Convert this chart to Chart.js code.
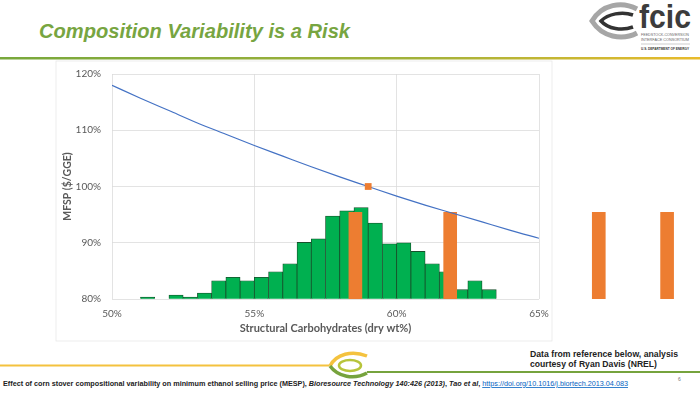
<!DOCTYPE html>
<html>
<head>
<meta charset="utf-8">
<title>Composition Variability is a Risk</title>
<script src="https://cdn.jsdelivr.net/npm/chart.js@4.4.0/dist/chart.umd.min.js"></script>
<style>
    html, body { margin: 0; padding: 0; background: #fff; }
    #slide { position: relative; width: 700px; height: 394px; overflow: hidden; background: #fff; }
    #slide svg, #slide canvas { position: absolute; left: 0; top: 0; }
</style>
</head>
<body>
<div id="slide">
    <svg id="decor" width="700" height="394" xmlns="http://www.w3.org/2000/svg" font-family="'Liberation Sans', Arial, sans-serif">
        <defs>
            <linearGradient id="titleRule" x1="0" x2="1" y1="0" y2="0">
                <stop offset="0" stop-color="#78a83c"/>
                <stop offset="0.6" stop-color="#a3b23a"/>
                <stop offset="1" stop-color="#e9bb2c"/>
            </linearGradient>
        </defs>

        <!-- slide title -->
        <text x="39" y="37.5" font-size="20" font-weight="bold" font-style="italic" fill="#77a541"
              textLength="311" lengthAdjust="spacingAndGlyphs">Composition Variability is a Risk</text>
        <rect x="0" y="57" width="700" height="2.5" fill="url(#titleRule)"/>

        <!-- fcic logo -->
        <path d="M637 9 C622 1 602 4 592 21 C602 37 622 41 637 33" fill="none" stroke="#a6a6a6" stroke-width="5"/>
        <path d="M633 15 C622 11 608 14 601 21 C608 29 622 31 633 27" fill="none" stroke="#333" stroke-width="3.5"/>
        <text x="639" y="28" font-size="33" font-weight="bold" fill="#3c3c3c"
              textLength="52" lengthAdjust="spacingAndGlyphs">fcic</text>
        <text x="641" y="36" font-size="3.6" fill="#666" textLength="48" lengthAdjust="spacingAndGlyphs">FEEDSTOCK-CONVERSION</text>
        <text x="641" y="40.5" font-size="3.6" fill="#666" textLength="48" lengthAdjust="spacingAndGlyphs">INTERFACE CONSORTIUM</text>
        <line x1="641" y1="44" x2="690" y2="44" stroke="#999" stroke-width="0.5"/>
        <text x="641" y="50" font-size="3.6" font-weight="bold" fill="#333" textLength="48" lengthAdjust="spacingAndGlyphs">U.S. DEPARTMENT OF ENERGY</text>

        <!-- chart object frame -->
        <rect x="56" y="61" width="496" height="280" fill="none" stroke="#e6e6e6" stroke-width="0.75"/>

        <!-- footer rules and mark -->
        <rect x="0" y="364.5" width="329" height="2" fill="#f4c23e"/>
        <rect x="367" y="371" width="333" height="2" fill="#76a33d"/>
        <path d="M367 356 C352 350 336 354 330 366" fill="none" stroke="#f4c23e" stroke-width="3.5"/>
        <path d="M330 366 C338 377 354 380 367 373" fill="none" stroke="#76a33d" stroke-width="3.5"/>
        <ellipse cx="350" cy="365.5" rx="11" ry="5.5" fill="none" stroke="#b7c43a" stroke-width="2.5"/>

        <!-- source notes -->
        <text x="530" y="356.5" font-size="9.3" font-weight="bold" fill="#222"
              textLength="148" lengthAdjust="spacingAndGlyphs">Data from reference below, analysis</text>
        <text x="530" y="367.3" font-size="9.3" font-weight="bold" fill="#222"
              textLength="127" lengthAdjust="spacingAndGlyphs">courtesy of Ryan Davis (NREL)</text>
        <text x="3" y="386" font-size="8" font-weight="bold" fill="#222" textLength="625" lengthAdjust="spacingAndGlyphs">Effect of corn stover compositional variability on minimum ethanol selling price (MESP), <tspan font-style="italic">Bioresource Technology 140:426 (2013)</tspan>, <tspan font-style="italic">Tao et al</tspan>, <tspan fill="#0563c1" font-weight="normal" text-decoration="underline">https://doi.org/10.1016/j.biortech.2013.04.083</tspan></text>
        <text x="678" y="381" font-size="5" fill="#777">6</text>
    </svg>
    <canvas id="mesp-chart" width="700" height="394"></canvas>
</div>

<script>
// MESP (% of base case) as structural carbohydrate content varies
const curveCarbs = [50, 51, 52, 53, 54, 55, 56, 57, 58, 59, 60, 61, 62, 63, 64, 65];
const curveMesp = [118.0, 115.7, 113.5, 111.3, 109.3, 107.3, 105.4, 103.5, 101.7, 100.0, 98.3, 96.7, 95.2, 93.7, 92.2, 90.8];

// Base case design point
const baseCarbs = [59];
const baseMesp = [100];

// Sample distribution (0.5 wt% bins), drawn up from the 80% baseline
const histCarbs = [51.25, 52.25, 52.75, 53.25, 53.75, 54.25, 54.75, 55.25, 55.75, 56.25, 56.75, 57.25,
    57.75, 58.25, 58.75, 59.25, 59.75, 60.25, 60.75, 61.25, 61.75, 62.25, 62.75, 63.25];
const histHeights = [80.35, 80.7, 80.35, 81.07, 83.25, 83.85, 83.25, 83.85, 84.85, 86.27, 90.06, 90.7,
    94.73, 95.68, 96.27, 93.5, 89.82, 90.0, 88.46, 86.27, 84.85, 81.66, 83.25, 81.66];

// Highlighted samples (orange bars; the last two sit outside the plot frame)
const highlightCarbs = [58.55, 61.88, 67.1, 69.5];
const highlightHeights = [95.4, 95.4, 95.4, 95.4];

// Axis ticks
const xTicks = [50, 55, 60, 65];
const yTicks = [80, 90, 100, 110, 120];

const TICK_COLOR = '#595959';
const GRID_COLOR = '#d9d9d9';

/**
 * Zip two arrays into {x, y} points
 */
function toPoints(xs, ys) {
    return xs.map((x, i) => ({ x: x, y: ys[i] }));
}

const percent = value => value + '%';

const mespChart = new Chart(document.getElementById('mesp-chart'), {
    type: 'bar',
    data: {
        datasets: [
            {
                type: 'line',
                data: toPoints(baseCarbs, baseMesp),
                showLine: false,
                pointStyle: 'rect',
                pointRadius: 4.8,
                backgroundColor: '#ed7d31',
                borderColor: '#ed7d31',
                borderWidth: 0
            },
            {
                type: 'line',
                data: toPoints(curveCarbs, curveMesp),
                borderColor: '#4472c4',
                borderWidth: 1.2,
                pointRadius: 0,
                cubicInterpolationMode: 'monotone',
                fill: false
            },
            {
                type: 'bar',
                xAxisID: 'xHighlight',
                data: toPoints(highlightCarbs, highlightHeights),
                base: 80,
                barThickness: 13,
                grouped: false,
                backgroundColor: '#ed7d31',
                borderWidth: 0,
                clip: false
            },
            {
                type: 'bar',
                data: toPoints(histCarbs, histHeights),
                base: 80,
                barPercentage: 1,
                categoryPercentage: 1,
                grouped: false,
                backgroundColor: '#00b050',
                borderColor: '#17502b',
                borderWidth: 0.8
            }
        ]
    },
    options: {
        responsive: false,
        animation: false,
        devicePixelRatio: 1,
        layout: {
            padding: { left: 57, right: 161, top: 74, bottom: 57 }
        },
        plugins: {
            legend: { display: false },
            tooltip: { enabled: false }
        },
        scales: {
            x: {
                type: 'linear',
                min: xTicks[0],
                max: xTicks[xTicks.length - 1],
                offset: false,
                afterBuildTicks: axis => { axis.ticks = xTicks.map(value => ({ value: value })); },
                afterFit: axis => { axis.height = 38; },
                border: { display: false },
                grid: { color: GRID_COLOR, lineWidth: 0.75, drawTicks: false, offset: false },
                ticks: {
                    color: TICK_COLOR,
                    font: { family: 'Lato', size: 10 },
                    padding: 9,
                    maxRotation: 0,
                    callback: percent
                },
                title: {
                    display: true,
                    text: 'Structural Carbohydrates (dry wt%)',
                    color: TICK_COLOR,
                    font: { family: 'Lato', size: 11, weight: 'bold' },
                    padding: { top: 0, bottom: 2 }
                }
            },
            xHighlight: {
                type: 'linear',
                display: false,
                min: xTicks[0],
                max: xTicks[xTicks.length - 1],
                offset: false,
                grid: { offset: false }
            },
            y: {
                min: yTicks[0],
                max: yTicks[yTicks.length - 1],
                afterBuildTicks: axis => { axis.ticks = yTicks.map(value => ({ value: value })); },
                afterFit: axis => { axis.width = 55; },
                border: { display: false },
                grid: { color: GRID_COLOR, lineWidth: 0.75, drawTicks: false },
                ticks: {
                    color: TICK_COLOR,
                    font: { family: 'Lato', size: 10 },
                    padding: 11,
                    callback: percent
                },
                title: {
                    display: true,
                    text: 'MFSP ($/GGE)',
                    color: TICK_COLOR,
                    font: { family: 'Lato', size: 10.5, weight: 'bold' },
                    padding: { top: 4, bottom: 0 }
                }
            }
        }
    }
});
</script>
</body>
</html>
